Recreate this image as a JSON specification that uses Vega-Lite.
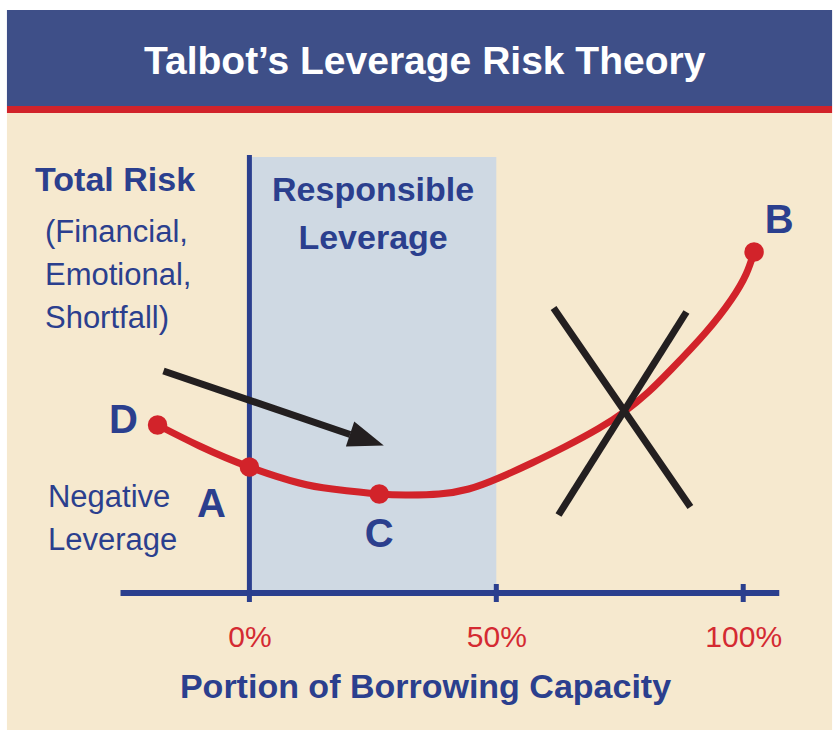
{
  "$schema": "https://vega.github.io/schema/vega-lite/v6.json",
  "width": 833,
  "height": 730,
  "autosize": {"type": "fit", "contains": "padding"},
  "padding": 0,
  "background": "#ffffff",
  "config": {"view": {"stroke": null}},
  "layer": [
    {
      "data": {"values": [{"x": -49.1, "x2": 118, "y": -27.4, "y2": 96}]},
      "mark": {"type": "rect", "color": "#f6e9cf"},
      "encoding": {
        "x": {"field": "x", "type": "quantitative", "scale": {"domain": [-50.505, 117.778], "nice": false, "zero": false},
          "axis": {"values": [0, 50, 100], "labelExpr": "datum.value + '%'", "domain": false, "ticks": false, "tickSize": 0, "grid": false, "zindex": 1,
            "offset": -137, "labelFont": "Liberation Sans, Arial, sans-serif", "labelFontSize": 30,
            "labelColor": "#d42a32", "labelPadding": 53, "labelBaseline": "alphabetic", "labelFlush": false, "labelOverlap": false,
            "title": "Portion of Borrowing Capacity", "titleFont": "Liberation Sans, Arial, sans-serif",
            "titleFontSize": 34, "titleFontWeight": "bold", "titleColor": "#2b3f8e", "titleX": 425, "titleY": 104, "titleBaseline": "alphabetic", "titleAlign": "center"}},
        "x2": {"field": "x2"},
        "y": {"field": "y", "type": "quantitative", "scale": {"domain": [-27.4, 118.6], "nice": false, "zero": false}, "axis": null},
        "y2": {"field": "y2"}
      }
    },
    {
      "data": {"values": [{"x": -49.1, "x2": 118, "y": 97.4, "y2": 116.6}]},
      "mark": {"type": "rect", "color": "#3e4f88"},
      "encoding": {
        "x": {"field": "x", "type": "quantitative"}, "x2": {"field": "x2"},
        "y": {"field": "y", "type": "quantitative", "axis": null}, "y2": {"field": "y2"}
      }
    },
    {
      "data": {"values": [{"x": -49.1, "x2": 118, "y": 96, "y2": 97.4}]},
      "mark": {"type": "rect", "color": "#d1232a"},
      "encoding": {
        "x": {"field": "x", "type": "quantitative"}, "x2": {"field": "x2"},
        "y": {"field": "y", "type": "quantitative", "axis": null}, "y2": {"field": "y2"}
      }
    },
    {
      "data": {"values": [{"x": 0, "x2": 50, "y": 0, "y2": 87.2}]},
      "mark": {"type": "rect", "color": "#cfd9e3"},
      "encoding": {
        "x": {"field": "x", "type": "quantitative"}, "x2": {"field": "x2"},
        "y": {"field": "y", "type": "quantitative", "axis": null}, "y2": {"field": "y2"}
      }
    },
    {
      "data": {"values": [{"x": -26.1, "x2": 107.3, "y": 0, "y2": 0}]},
      "mark": {"type": "rule", "color": "#2b3f8e", "strokeWidth": 6},
      "encoding": {
        "x": {"field": "x", "type": "quantitative"}, "x2": {"field": "x2"},
        "y": {"field": "y", "type": "quantitative", "axis": null}, "y2": {"field": "y2"}
      }
    },
    {
      "data": {"values": [{"x": 0, "x2": 0, "y": -1.8, "y2": 87.6}, {"x": 50, "x2": 50, "y": -1.8, "y2": 1.8}, {"x": 100, "x2": 100, "y": -1.8, "y2": 1.8}]},
      "mark": {"type": "rule", "color": "#2b3f8e", "strokeWidth": 5},
      "encoding": {
        "x": {"field": "x", "type": "quantitative"}, "x2": {"field": "x2"},
        "y": {"field": "y", "type": "quantitative", "axis": null}, "y2": {"field": "y2"}
      }
    },
    {
      "data": {"values": [
        {"x": -18.6, "y": 33.6}, {"x": -10.1, "y": 29.4}, {"x": 0, "y": 25.2}, {"x": 10.1, "y": 22.0},
        {"x": 16.8, "y": 20.8}, {"x": 26.3, "y": 19.8}, {"x": 32.3, "y": 19.6}, {"x": 38.4, "y": 19.8},
        {"x": 44.4, "y": 20.8}, {"x": 50.5, "y": 23.0}, {"x": 57.2, "y": 26.0}, {"x": 64.0, "y": 29.3},
        {"x": 70.7, "y": 32.9}, {"x": 76.0, "y": 36.3}, {"x": 80.8, "y": 40.2}, {"x": 85.5, "y": 44.8},
        {"x": 92.3, "y": 52.0}, {"x": 97.6, "y": 58.7}, {"x": 100.6, "y": 63.8}, {"x": 102.2, "y": 68.2}
      ]},
      "mark": {"type": "line", "color": "#d2232a", "strokeWidth": 7, "interpolate": "natural"},
      "encoding": {
        "x": {"field": "x", "type": "quantitative"},
        "y": {"field": "y", "type": "quantitative", "axis": null}
      }
    },
    {
      "data": {"values": [{"x": -18.6, "y": 33.6}, {"x": 0, "y": 25.2}, {"x": 26.3, "y": 19.8}, {"x": 102.2, "y": 68.2}]},
      "mark": {"type": "point", "shape": "circle", "filled": true, "color": "#d2232a", "size": 380, "opacity": 1},
      "encoding": {
        "x": {"field": "x", "type": "quantitative"},
        "y": {"field": "y", "type": "quantitative", "axis": null}
      }
    },
    {
      "data": {"values": [{"x": 61.6, "x2": 89.3, "y": 57, "y2": 17.2}, {"x": 88.5, "x2": 62.6, "y": 56.2, "y2": 15.6}, {"x": -17.4, "x2": 20.4, "y": 44.4, "y2": 31.7}]},
      "mark": {"type": "rule", "color": "#231f20", "strokeWidth": 7},
      "encoding": {
        "x": {"field": "x", "type": "quantitative"}, "x2": {"field": "x2"},
        "y": {"field": "y", "type": "quantitative", "axis": null}, "y2": {"field": "y2"}
      }
    },
    {
      "data": {"values": [{"x": 23.8, "y": 30.65}]},
      "mark": {"type": "point", "shape": "M0,-1L0.74,1L-0.74,1Z", "filled": true, "color": "#231f20", "size": 1267, "angle": 108.5, "opacity": 1},
      "encoding": {
        "x": {"field": "x", "type": "quantitative"},
        "y": {"field": "y", "type": "quantitative", "axis": null}
      }
    },
    {
      "data": {"values": [{"x": 35.5, "y": 103.8, "t": "Talbot’s Leverage Risk Theory"}]},
      "mark": {"type": "text", "color": "#ffffff", "font": "Liberation Sans, Arial, sans-serif", "fontSize": 39, "fontWeight": "bold", "align": "center", "baseline": "alphabetic"},
      "encoding": {
        "x": {"field": "x", "type": "quantitative"},
        "y": {"field": "y", "type": "quantitative", "axis": null},
        "text": {"field": "t"}
      }
    },
    {
      "data": {"values": [{"x": -43.4, "y": 80.4, "t": "Total Risk"}]},
      "mark": {"type": "text", "color": "#2b3f8e", "font": "Liberation Sans, Arial, sans-serif", "fontSize": 34, "fontWeight": "bold", "align": "left", "baseline": "alphabetic"},
      "encoding": {
        "x": {"field": "x", "type": "quantitative"},
        "y": {"field": "y", "type": "quantitative", "axis": null},
        "text": {"field": "t"}
      }
    },
    {
      "data": {"values": [
        {"x": -41.4, "y": 70.2, "t": "(Financial,"}, {"x": -41.4, "y": 61.6, "t": "Emotional,"}, {"x": -41.4, "y": 53, "t": "Shortfall)"},
        {"x": -40.8, "y": 17.2, "t": "Negative"}, {"x": -40.8, "y": 8.6, "t": "Leverage"}
      ]},
      "mark": {"type": "text", "color": "#2b3f8e", "font": "Liberation Sans, Arial, sans-serif", "fontSize": 31, "align": "left", "baseline": "alphabetic"},
      "encoding": {
        "x": {"field": "x", "type": "quantitative"},
        "y": {"field": "y", "type": "quantitative", "axis": null},
        "text": {"field": "t"}
      }
    },
    {
      "data": {"values": [{"x": 25.05, "y": 78.5, "t": "Responsible"}, {"x": 25.05, "y": 68.9, "t": "Leverage"}]},
      "mark": {"type": "text", "color": "#2b3f8e", "font": "Liberation Sans, Arial, sans-serif", "fontSize": 34, "fontWeight": "bold", "align": "center", "baseline": "alphabetic"},
      "encoding": {
        "x": {"field": "x", "type": "quantitative"},
        "y": {"field": "y", "type": "quantitative", "axis": null},
        "text": {"field": "t"}
      }
    },
    {
      "data": {"values": [{"x": -25.5, "y": 32, "t": "D"}, {"x": -7.7, "y": 15.2, "t": "A"}, {"x": 26.3, "y": 9.2, "t": "C"}, {"x": 107.3, "y": 72, "t": "B"}]},
      "mark": {"type": "text", "color": "#2b3f8e", "font": "Liberation Sans, Arial, sans-serif", "fontSize": 40, "fontWeight": "bold", "align": "center", "baseline": "alphabetic"},
      "encoding": {
        "x": {"field": "x", "type": "quantitative"},
        "y": {"field": "y", "type": "quantitative", "axis": null},
        "text": {"field": "t"}
      }
    }
  ]
}
